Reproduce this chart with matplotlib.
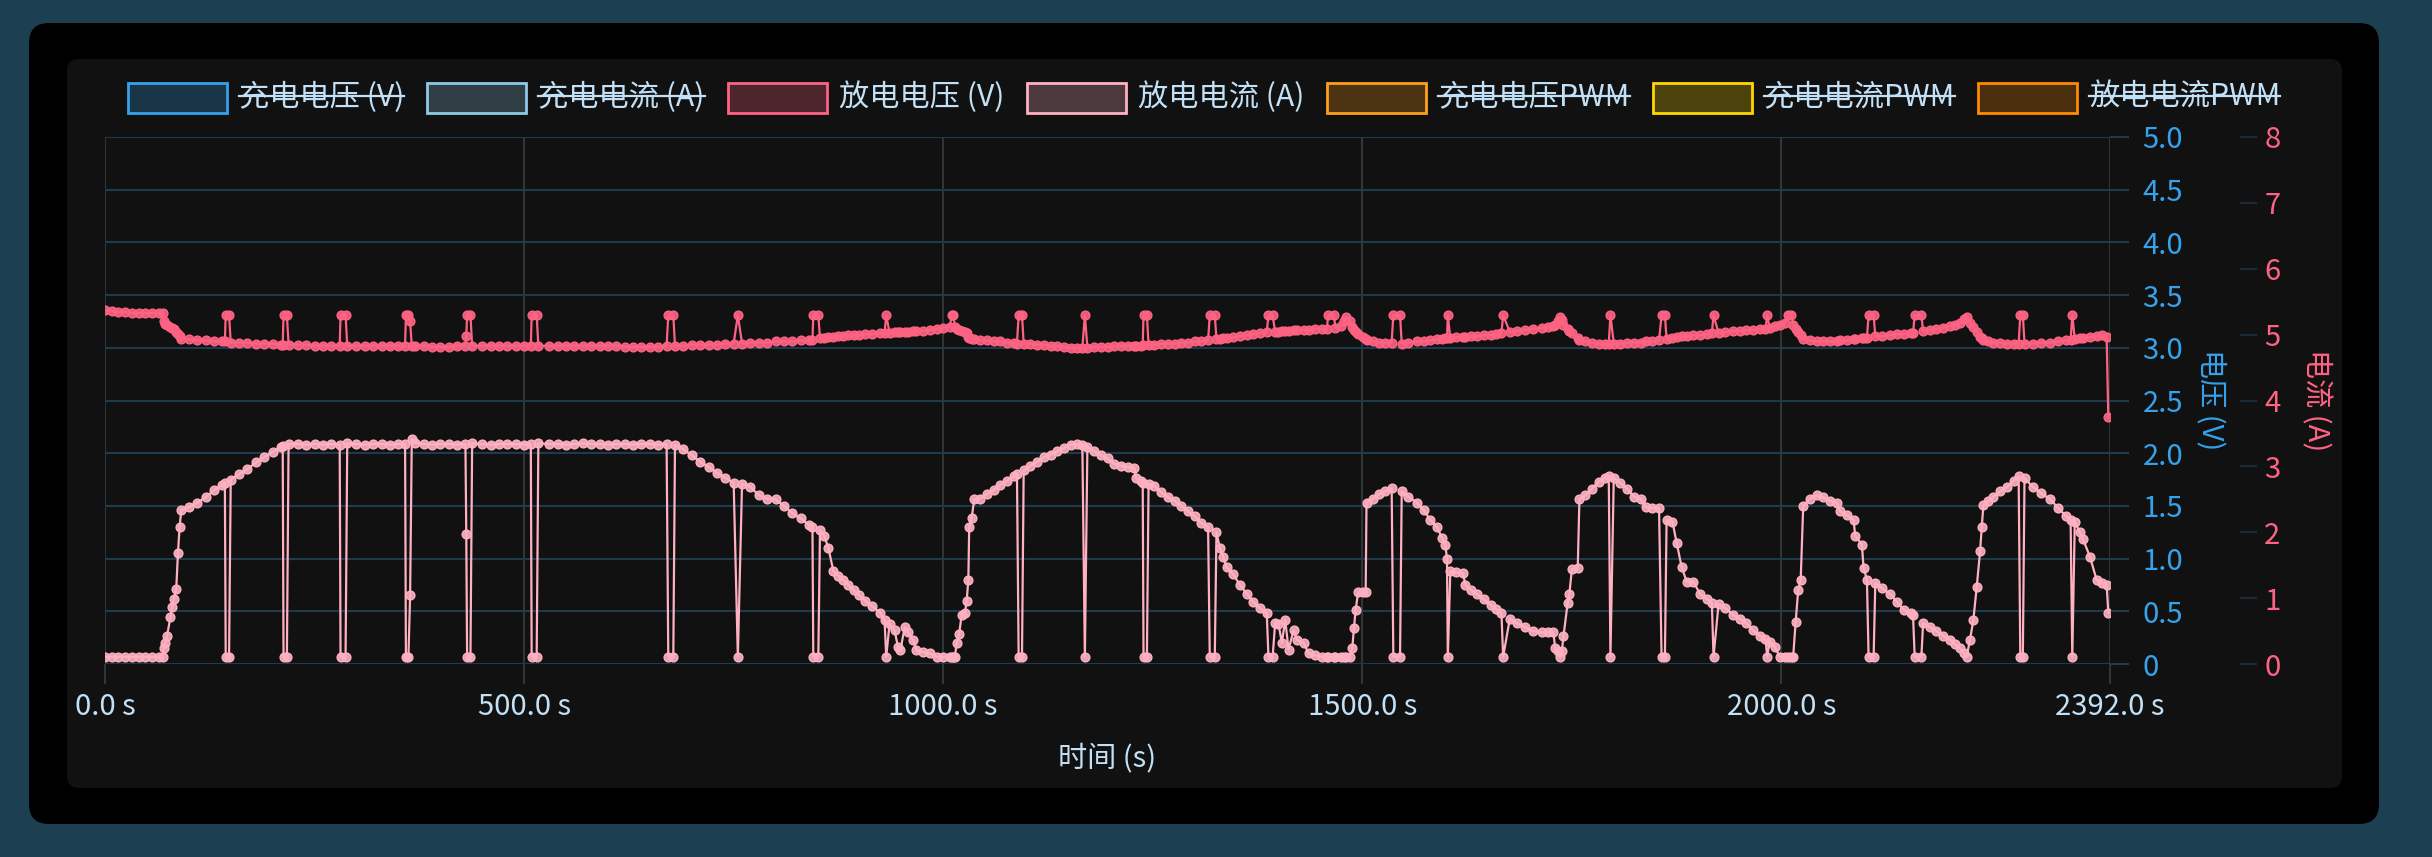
import numpy as np
import matplotlib
matplotlib.use("Agg")
import matplotlib.pyplot as plt
from matplotlib.patches import FancyBboxPatch, Rectangle
from matplotlib.colors import to_rgba

plt.rcParams['font.family'] = ['Noto Sans CJK SC', 'DejaVu Sans']

# discharge log: time (s), voltage (V), current (A)
time_s = [
    0, 8, 16, 24, 32, 40, 48, 56, 64, 69,
    70, 72, 74, 78, 80, 82, 85, 87, 89, 91,
    100, 110, 120, 130, 140, 143, 144, 148, 150, 160,
    170, 180, 190, 200, 210, 212, 213, 217, 219, 230,
    240, 250, 260, 270, 280, 281, 287, 289, 300, 310,
    320, 330, 340, 350, 358, 359, 362, 364, 366, 370,
    380, 390, 400, 410, 420, 430, 431, 432, 436, 438,
    450, 460, 470, 480, 490, 500, 508, 509, 515, 517,
    530, 540, 550, 560, 570, 580, 590, 600, 610, 620,
    630, 640, 650, 660, 670, 672, 678, 680, 690, 700,
    710, 720, 730, 740, 750, 755, 760, 770, 780, 790,
    800, 810, 820, 830, 840, 844, 845, 851, 853, 858,
    863, 869, 875, 881, 887, 893, 900, 907, 915, 925,
    930, 932, 936, 942, 946, 949, 954, 958, 964, 968,
    976, 984, 992, 1000, 1008, 1010, 1012, 1014, 1016, 1019,
    1022, 1026, 1028, 1030, 1031, 1034, 1037, 1044, 1052, 1060,
    1068, 1076, 1084, 1088, 1090, 1094, 1096, 1104, 1112, 1120,
    1128, 1136, 1144, 1152, 1160, 1166, 1169, 1172, 1180, 1188,
    1196, 1204, 1212, 1220, 1228, 1230, 1236, 1238, 1239, 1243,
    1245, 1252, 1260, 1268, 1276, 1284, 1292, 1300, 1308, 1316,
    1318, 1324, 1326, 1330, 1334, 1338, 1346, 1354, 1362, 1370,
    1378, 1386, 1388, 1393, 1396, 1400, 1404, 1408, 1412, 1418,
    1422, 1430, 1436, 1444, 1452, 1458, 1459, 1466, 1468, 1474,
    1478, 1481, 1485, 1488, 1490, 1492, 1495, 1501, 1504, 1505,
    1513, 1520, 1527, 1535, 1537, 1545, 1547, 1555, 1565, 1573,
    1581, 1589, 1595, 1599, 1601, 1602, 1605, 1612, 1620, 1623,
    1630, 1637, 1645, 1653, 1660, 1666, 1668, 1676, 1684, 1694,
    1704, 1714, 1722, 1728, 1730, 1733, 1736, 1738, 1740, 1745,
    1747, 1750, 1757, 1759, 1766, 1774, 1782, 1790, 1794, 1796,
    1800, 1808, 1816, 1824, 1832, 1838, 1846, 1854, 1857, 1861,
    1863, 1870, 1875, 1881, 1887, 1895, 1903, 1911, 1917, 1919,
    1925, 1933, 1942, 1950, 1958, 1966, 1974, 1981, 1983, 1986,
    1992, 1998, 2004, 2008, 2012, 2014, 2017, 2020, 2023, 2026,
    2034, 2042, 2050, 2058, 2066, 2070, 2078, 2086, 2088, 2096,
    2098, 2102, 2104, 2110, 2112, 2120, 2130, 2138, 2146, 2154,
    2157, 2159, 2167, 2169, 2177, 2185, 2193, 2201, 2207, 2213,
    2218, 2221, 2225, 2229, 2233, 2237, 2239, 2241, 2247, 2253,
    2261, 2269, 2277, 2283, 2285, 2288, 2290, 2300, 2310, 2320,
    2330, 2340, 2345, 2347, 2350, 2356, 2360, 2368, 2376, 2382,
    2388, 2390,
]

dis_voltage = [
    3.36, 3.35, 3.34, 3.34, 3.33, 3.33, 3.33, 3.33, 3.33, 3.33,
    3.25, 3.23, 3.22, 3.20, 3.19, 3.18, 3.15, 3.13, 3.11, 3.08,
    3.08, 3.07, 3.07, 3.06, 3.06, 3.06, 3.31, 3.31, 3.05, 3.05,
    3.05, 3.04, 3.04, 3.04, 3.03, 3.03, 3.31, 3.31, 3.03, 3.03,
    3.03, 3.02, 3.02, 3.02, 3.02, 3.31, 3.31, 3.02, 3.02, 3.02,
    3.02, 3.02, 3.02, 3.02, 3.02, 3.31, 3.31, 3.25, 3.02, 3.02,
    3.02, 3.01, 3.01, 3.01, 3.02, 3.02, 3.11, 3.31, 3.31, 3.02,
    3.02, 3.02, 3.02, 3.02, 3.02, 3.02, 3.02, 3.31, 3.31, 3.02,
    3.02, 3.02, 3.02, 3.02, 3.02, 3.02, 3.02, 3.02, 3.02, 3.01,
    3.01, 3.01, 3.01, 3.01, 3.02, 3.31, 3.31, 3.02, 3.02, 3.03,
    3.03, 3.03, 3.03, 3.04, 3.04, 3.31, 3.04, 3.05, 3.05, 3.05,
    3.06, 3.06, 3.06, 3.07, 3.07, 3.07, 3.31, 3.31, 3.09, 3.09,
    3.10, 3.10, 3.11, 3.11, 3.12, 3.12, 3.12, 3.13, 3.13, 3.14,
    3.14, 3.31, 3.14, 3.15, 3.15, 3.15, 3.15, 3.15, 3.16, 3.16,
    3.16, 3.17, 3.18, 3.19, 3.20, 3.31, 3.31, 3.20, 3.18, 3.17,
    3.16, 3.15, 3.14, 3.10, 3.09, 3.08, 3.08, 3.07, 3.07, 3.06,
    3.06, 3.05, 3.05, 3.04, 3.31, 3.31, 3.04, 3.04, 3.03, 3.03,
    3.02, 3.02, 3.01, 3.00, 3.00, 3.00, 3.31, 3.00, 3.01, 3.01,
    3.01, 3.02, 3.02, 3.02, 3.02, 3.02, 3.02, 3.03, 3.31, 3.31,
    3.03, 3.03, 3.04, 3.04, 3.04, 3.05, 3.05, 3.06, 3.06, 3.07,
    3.31, 3.31, 3.08, 3.08, 3.09, 3.09, 3.10, 3.11, 3.12, 3.13,
    3.14, 3.15, 3.31, 3.31, 3.15, 3.15, 3.16, 3.16, 3.16, 3.17,
    3.17, 3.17, 3.17, 3.18, 3.18, 3.18, 3.31, 3.31, 3.19, 3.21,
    3.25, 3.29, 3.25, 3.20, 3.17, 3.15, 3.13, 3.10, 3.08, 3.07,
    3.06, 3.05, 3.05, 3.05, 3.31, 3.31, 3.04, 3.05, 3.06, 3.06,
    3.07, 3.08, 3.08, 3.09, 3.09, 3.31, 3.09, 3.10, 3.10, 3.10,
    3.11, 3.11, 3.12, 3.12, 3.13, 3.14, 3.31, 3.15, 3.16, 3.17,
    3.18, 3.19, 3.20, 3.21, 3.22, 3.25, 3.29, 3.26, 3.22, 3.18,
    3.16, 3.14, 3.09, 3.07, 3.06, 3.05, 3.04, 3.04, 3.04, 3.31,
    3.04, 3.04, 3.05, 3.05, 3.05, 3.06, 3.06, 3.07, 3.31, 3.31,
    3.08, 3.09, 3.10, 3.11, 3.11, 3.12, 3.12, 3.13, 3.14, 3.31,
    3.14, 3.15, 3.16, 3.16, 3.17, 3.17, 3.18, 3.18, 3.31, 3.19,
    3.21, 3.22, 3.24, 3.31, 3.31, 3.22, 3.18, 3.15, 3.12, 3.08,
    3.07, 3.06, 3.06, 3.06, 3.06, 3.07, 3.07, 3.08, 3.08, 3.09,
    3.09, 3.09, 3.31, 3.31, 3.11, 3.11, 3.12, 3.13, 3.13, 3.14,
    3.14, 3.31, 3.31, 3.16, 3.17, 3.18, 3.19, 3.21, 3.22, 3.24,
    3.27, 3.29, 3.24, 3.20, 3.15, 3.10, 3.09, 3.07, 3.06, 3.05,
    3.05, 3.04, 3.04, 3.04, 3.31, 3.31, 3.04, 3.04, 3.05, 3.05,
    3.06, 3.07, 3.07, 3.31, 3.08, 3.09, 3.09, 3.10, 3.11, 3.12,
    3.10, 2.34,
]

dis_current = [
    0.11, 0.11, 0.11, 0.11, 0.11, 0.11, 0.11, 0.11, 0.11, 0.11,
    0.24, 0.32, 0.42, 0.72, 0.86, 0.98, 1.14, 1.68, 2.08, 2.34,
    2.38, 2.45, 2.53, 2.64, 2.72, 2.75, 0.11, 0.11, 2.80, 2.88,
    2.96, 3.06, 3.14, 3.22, 3.30, 3.31, 0.11, 0.11, 3.34, 3.34,
    3.33, 3.34, 3.33, 3.34, 3.33, 0.11, 0.11, 3.35, 3.34, 3.33,
    3.34, 3.34, 3.33, 3.34, 3.34, 0.11, 0.11, 1.04, 3.42, 3.36,
    3.34, 3.33, 3.34, 3.34, 3.33, 3.34, 1.98, 0.11, 0.11, 3.35,
    3.34, 3.33, 3.34, 3.34, 3.34, 3.33, 3.34, 0.11, 0.11, 3.35,
    3.34, 3.34, 3.33, 3.34, 3.35, 3.34, 3.34, 3.33, 3.34, 3.34,
    3.33, 3.34, 3.34, 3.33, 3.34, 0.11, 0.11, 3.33, 3.26, 3.17,
    3.07, 2.99, 2.90, 2.83, 2.75, 0.11, 2.74, 2.69, 2.56, 2.51,
    2.50, 2.40, 2.29, 2.21, 2.11, 2.08, 0.11, 0.11, 2.03, 1.95,
    1.76, 1.41, 1.34, 1.28, 1.20, 1.12, 1.04, 0.96, 0.88, 0.78,
    0.67, 0.11, 0.61, 0.51, 0.26, 0.21, 0.56, 0.48, 0.37, 0.21,
    0.18, 0.16, 0.11, 0.11, 0.11, 0.11, 0.11, 0.11, 0.32, 0.45,
    0.75, 0.77, 0.96, 1.28, 2.08, 2.22, 2.50, 2.51, 2.58, 2.64,
    2.72, 2.78, 2.85, 2.88, 0.11, 0.11, 2.94, 3.01, 3.07, 3.14,
    3.18, 3.23, 3.28, 3.33, 3.34, 3.33, 0.11, 3.30, 3.23, 3.17,
    3.12, 3.04, 3.01, 2.99, 2.98, 2.82, 2.78, 2.75, 0.11, 0.11,
    2.74, 2.70, 2.61, 2.53, 2.48, 2.40, 2.32, 2.24, 2.14, 2.08,
    0.11, 0.11, 2.00, 1.76, 1.63, 1.47, 1.36, 1.20, 1.07, 0.94,
    0.85, 0.77, 0.11, 0.11, 0.62, 0.61, 0.32, 0.67, 0.22, 0.51,
    0.37, 0.32, 0.16, 0.13, 0.11, 0.11, 0.11, 0.11, 0.11, 0.11,
    0.11, 0.11, 0.11, 0.24, 0.54, 0.82, 1.09, 1.09, 1.09, 2.45,
    2.51, 2.58, 2.62, 2.67, 0.11, 0.11, 2.62, 2.54, 2.45, 2.34,
    2.19, 2.08, 1.92, 1.81, 1.60, 0.11, 1.41, 1.39, 1.38, 1.20,
    1.12, 1.06, 0.98, 0.90, 0.83, 0.77, 0.11, 0.69, 0.62, 0.56,
    0.50, 0.48, 0.48, 0.48, 0.24, 0.19, 0.11, 0.19, 0.42, 0.93,
    1.06, 1.44, 1.46, 2.50, 2.56, 2.66, 2.77, 2.83, 2.86, 0.11,
    2.83, 2.75, 2.66, 2.54, 2.51, 2.38, 2.37, 2.37, 0.11, 0.11,
    2.19, 2.16, 1.84, 1.47, 1.25, 1.25, 1.06, 0.99, 0.93, 0.11,
    0.91, 0.85, 0.75, 0.69, 0.62, 0.51, 0.43, 0.38, 0.11, 0.34,
    0.26, 0.11, 0.11, 0.11, 0.11, 0.11, 0.64, 1.12, 1.28, 2.40,
    2.51, 2.56, 2.53, 2.48, 2.45, 2.32, 2.26, 2.19, 1.95, 1.81,
    1.46, 1.28, 0.11, 0.11, 1.23, 1.15, 1.06, 0.94, 0.82, 0.77,
    0.74, 0.11, 0.11, 0.62, 0.56, 0.50, 0.43, 0.37, 0.30, 0.24,
    0.16, 0.11, 0.37, 0.67, 1.17, 1.71, 2.08, 2.42, 2.48, 2.54,
    2.62, 2.69, 2.78, 2.85, 0.11, 0.11, 2.82, 2.69, 2.59, 2.51,
    2.37, 2.24, 2.19, 0.11, 2.16, 2.00, 1.89, 1.63, 1.28, 1.23,
    1.20, 0.78,
]

assert len(time_s) == len(dis_voltage) == len(dis_current)

legend_labels = ['充电电压 (V)', '充电电流 (A)', '放电电压 (V)', '放电电流 (A)',
                 '充电电压PWM', '充电电流PWM', '放电电流PWM']
legend_colors = ['#36a2eb', '#8ecae6', '#ff6384', '#ffb1c1',
                 '#ff9f1a', '#ffd700', '#ff8a00']
legend_hidden = [True, True, False, False, True, True, True]

x_ticks = [0, 500, 1000, 1500, 2000, 2392]
v_ticks = [0, 0.5, 1.0, 1.5, 2.0, 2.5, 3.0, 3.5, 4.0, 4.5, 5.0]
i_ticks = [0, 1, 2, 3, 4, 5, 6, 7, 8]

txt_col = '#c2e0f6'
blue = '#36a2eb'
red = '#ff6384'
pink = '#ffb1c1'
fs = 21

W, H = 2432, 857
fig = plt.figure(figsize=(W / 100, H / 100), dpi=100)
fig.patch.set_facecolor('#1d3f52')

# background card + panel, drawn in pixel coords
bg = fig.add_axes([0, 0, 1, 1])
bg.set_xlim(0, W)
bg.set_ylim(H, 0)
bg.axis('off')
bg.add_patch(FancyBboxPatch((29, 23), 2350, 801, boxstyle='round,pad=0,rounding_size=20',
                            fc='black', ec='none'))
bg.add_patch(FancyBboxPatch((67, 59), 2275, 729, boxstyle='round,pad=0,rounding_size=12',
                            fc='#111111', ec='none'))

ax = fig.add_axes([105 / W, 1 - 664 / H, 2005 / W, 527 / H])
ax.set_facecolor('none')
ax2 = ax.twinx()

ax.plot(time_s, dis_voltage, color=red, lw=1.6, marker='o', ms=6.3, mew=1,
        mfc=to_rgba(red, 0.9), mec=red, zorder=3)
ax2.plot(time_s, dis_current, color=pink, lw=1.6, marker='o', ms=6.3, mew=1,
         mfc=to_rgba(pink, 0.9), mec=pink, zorder=3)

ax.set_xlim(0, 2392)
ax.set_ylim(0, 5)
ax2.set_ylim(0, 8)
ax.set_xticks(x_ticks)
ax.set_xticklabels([f'{v:.1f} s' for v in x_ticks])
ax.set_yticks(v_ticks)
ax.set_yticklabels(['0' if v == 0 else f'{v:.1f}' for v in v_ticks])
ax2.set_yticks(i_ticks)
ax2.set_yticklabels([str(v) for v in i_ticks])

ax.yaxis.tick_right()
for s in ax.spines.values():
    s.set_visible(False)
for s in ax2.spines.values():
    s.set_visible(False)
ax2.spines['right'].set_position(('outward', 93.6))

ax.grid(axis='y', color='#1e3a4b', lw=1.5)
ax.grid(axis='x', color='#30353a', lw=1.5)
ax.set_axisbelow(True)

ax.tick_params(axis='x', length=14.4, width=1.5, color='#30353a',
               labelcolor=txt_col, labelsize=fs, pad=6)
ax.tick_params(axis='y', length=13.5, width=1.5, color='#1e3a4b',
               labelcolor=blue, labelsize=fs, pad=10)
ax2.tick_params(axis='y', length=12.5, width=1.5, color='#1e2a33',
                labelcolor=red, labelsize=fs, pad=5)

bg.text(1107, 758, '时间 (s)', color=txt_col, fontsize=fs, ha='center', va='center')
bg.text(2211, 400, '电压 (V)', color=blue, fontsize=fs, ha='center', va='center', rotation=270)
bg.text(2316, 400, '电流 (A)', color=red, fontsize=fs, ha='center', va='center', rotation=270)

# legend row, laid out like chart.js (centered, box + label)
texts = [bg.text(0, 97, lab, color=txt_col, fontsize=21.8, ha='left', va='center')
         for lab in legend_labels]
fig.canvas.draw()
r = fig.canvas.get_renderer()
widths = [t.get_window_extent(r).width for t in texts]
box_w, box_h, gap, sep = 99, 30, 12, 23
total = sum(box_w + gap + w for w in widths) + sep * (len(widths) - 1)
x = 1204 - total / 2
for t, w, col, hid in zip(texts, widths, legend_colors, legend_hidden):
    bg.add_patch(Rectangle((x, 83), box_w, box_h, fc=to_rgba(col, 0.25), ec=col, lw=2))
    tx = x + box_w + gap
    t.set_x(tx)
    if hid:
        bg.plot([tx, tx + w], [96, 96], color=txt_col, lw=1.6)
    x += box_w + gap + w + sep

fig.savefig('out.png', dpi=100, facecolor=fig.get_facecolor())
